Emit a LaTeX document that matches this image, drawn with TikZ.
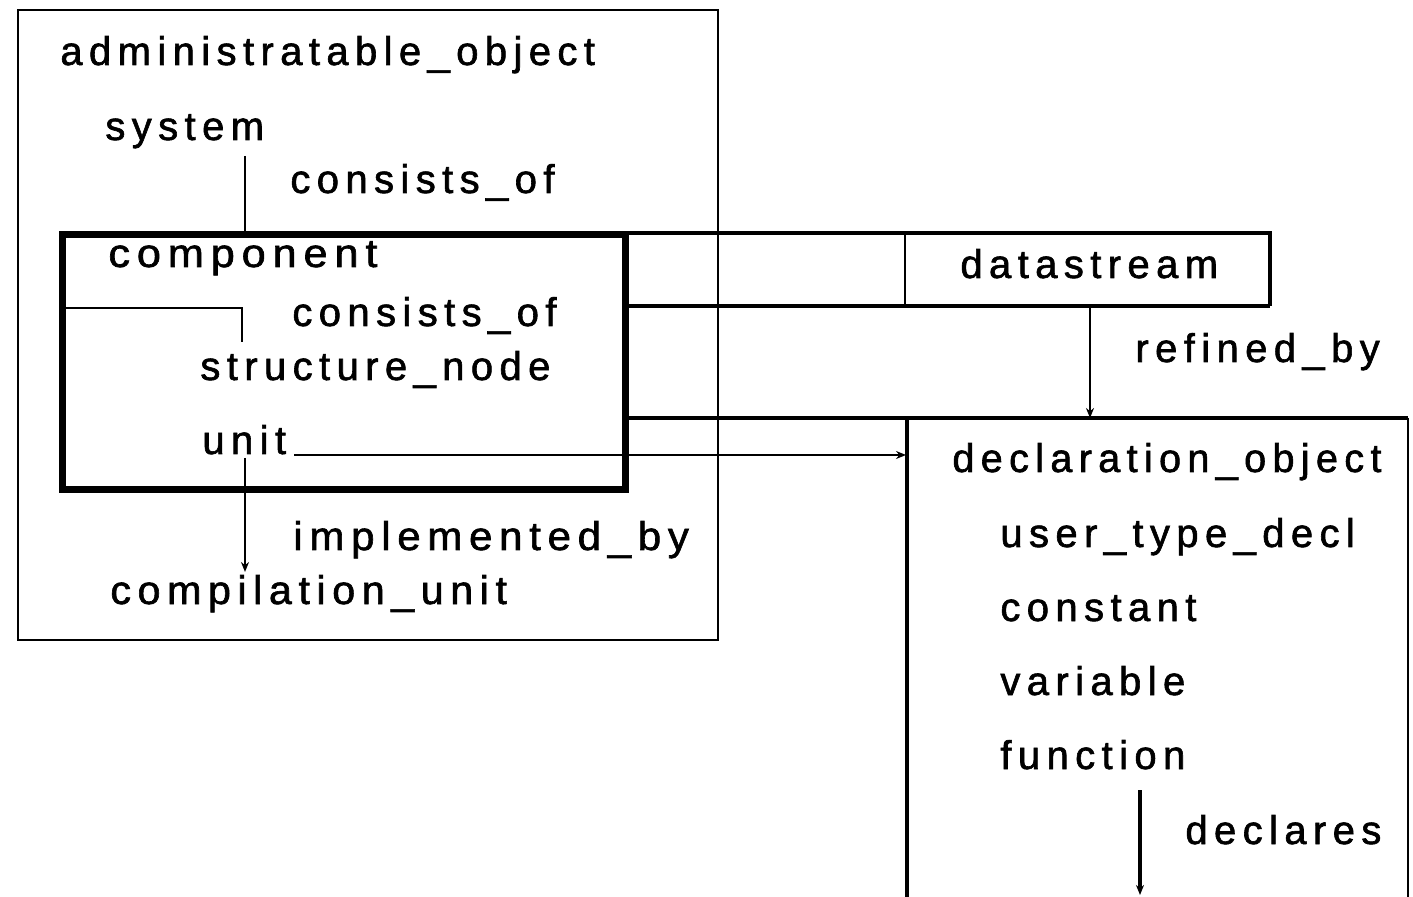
\documentclass[tikz,border=0pt]{standalone}
\usepackage{fontspec}
\newfontfamily\lblfont[LetterSpace=16,FakeBold=1.5]{Liberation Sans}
\usetikzlibrary{arrows.meta}
\tikzset{
  lbl/.style={anchor=base west, inner sep=0pt, font=\lblfont\fontsize{20}{24}\selectfont},
  thin line/.style={line width=1pt},
  mid line/.style={line width=1.6pt},
  heavy line/.style={line width=3.5pt},
  arr/.style={-{Stealth[length=5pt,width=4pt]}}
}
\begin{document}
\begin{tikzpicture}[x=0.5pt,y=-0.5pt]
\useasboundingbox (0,0) rectangle (1413,897);
\fill[white] (0,0) rectangle (1413,897);
\begin{scope}
\clip (0,0) rectangle (1413,897);
% outer administratable_object box
\draw[thin line] (18,10) rectangle (718,640);
% component box
\draw[heavy line] (62,235) rectangle (625,490);
% datastream box with lines from component box
\coordinate (dsTL) at (625,233);
\coordinate (dsTR) at (1270,233);
\coordinate (dsBL) at (625,306);
\coordinate (dsBR) at (1270,306);
\draw[mid line] (dsTL) -- (dsTR) -- (dsBR);
\draw[line width=2pt] (dsBL) -- (dsBR);
\draw[thin line] (905,233) -- (905,306);
% declaration_object box
\coordinate (dcTL) at (625,418);
\draw[mid line] (dcTL) -- (1408,418);
\draw[mid line] (907,418) -- (907,900);
\draw[thin line] (1408,418) -- (1408,900);
\end{scope}

% texts
\node[lbl] (admin) at (60,65) {administratable\_object};
\node[lbl] (system) at (105,140) {system};
\node[lbl] (cons1) at (290,193) {consists\_of};
\node[lbl, xscale=1.08] (component) at (108,267) {component};
\node[lbl] (cons2) at (292,326) {consists\_of};
\node[lbl] (snode) at (200,380) {structure\_node};
\node[lbl] (unit) at (202,454) {unit};
\node[lbl, xscale=1.05] (impl) at (293,550) {implemented\_by};
\node[lbl, xscale=1.03] (cunit) at (110,604) {compilation\_unit};
\node[lbl] (ds) at (960,278) {datastream};
\node[lbl] (refined) at (1135,362) {refined\_by};
\node[lbl, xscale=0.99] (decl) at (952,472) {declaration\_object};
\node[lbl] (utd) at (1000,547) {user\_type\_decl};
\node[lbl] (const) at (1000,621) {constant};
\node[lbl] (var) at (1000,695) {variable};
\node[lbl] (func) at (1000,769) {function};
\node[lbl] (declares) at (1185,844) {declares};

% connectors
\coordinate (sysB) at (245,156);
\coordinate (compT) at (245,233);
\draw[thin line] (sysB) -- (compT);

\coordinate (compL) at (62,308);
\coordinate (snT) at (242,342);
\draw[thin line] (compL) -| (snT);

\coordinate (unitR) at (294,455);
\coordinate (dcL) at (906,455);
\draw[thin line, arr] (unitR) -- (dcL);

\coordinate (unitB) at (245,458);
\coordinate (cuT) at (245,572);
\draw[thin line, arr] (unitB) -- (cuT);

\coordinate (dsB) at (1090,307);
\coordinate (dcT) at (1090,418);
\draw[thin line, arr] (dsB) -- (dcT);

\coordinate (funcB) at (1140,790);
\coordinate (declEnd) at (1140,895);
\draw[mid line, arr] (funcB) -- (declEnd);
\end{tikzpicture}
\end{document}
